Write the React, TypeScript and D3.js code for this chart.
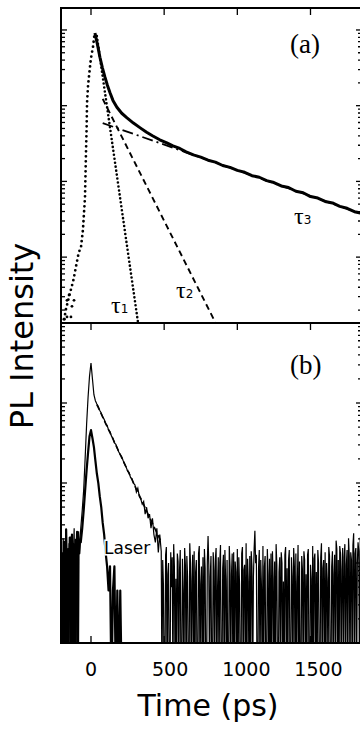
import * as d3 from "d3";

const W = 360;
const H = 729;
const left = 61;
const right = 362;
const aTop = 8;
const aBottom = 323;
const bBottom = 643;

const timeTicks = [0, 500, 1000, 1500];
const timeLabelNudge = [0, 6, 9, 8];

// panel (a): normalised PL decay, log10 of intensity
const plATime = [27, 45, 61, 78, 95, 112, 130, 150, 177, 210, 246, 290, 334, 380, 423, 470, 518, 560, 607,
  650, 700, 750, 800, 850, 900, 950, 1000, 1050, 1100, 1150, 1200, 1250, 1300, 1350, 1400, 1450, 1500,
  1550, 1600, 1650, 1700, 1750, 1800, 1850];
const plALog = [-0.04, -0.2, -0.36, -0.5, -0.62, -0.73, -0.83, -0.93, -1.02, -1.1, -1.16, -1.23, -1.29, -1.35, -1.4, -1.45, -1.49, -1.53, -1.565,
  -1.61, -1.65, -1.68, -1.72, -1.745, -1.79, -1.815, -1.855, -1.88, -1.925, -1.945, -1.99, -2.015, -2.06, -2.08, -2.13, -2.15, -2.2,
  -2.22, -2.265, -2.285, -2.33, -2.355, -2.4, -2.42];

// instrument response (dotted)
const irfTime = [-190, -175, -160, -140, -120, -100, -85, -68, -55, -48, -41, -38, -34, -30, -27, -20, -7, 0, 14, 25];
const irfLog = [-3.95, -3.72, -3.6, -3.45, -3.3, -3.1, -2.95, -2.86, -2.64, -2.42, -2.21, -1.95, -1.6, -1.3, -0.96, -0.73, -0.49, -0.37, -0.22, -0.04];
const irfScatterTime = [-164, -130, -164, -137, -116, -185, -150];
const irfScatterLog = [-3.57, -3.65, -3.79, -3.79, -3.57, -3.82, -3.5];

// exponential components
const tau1Time = [40, 330];
const tau1Log = [-0.08, -3.98];
const tau2Time = [80, 870];
const tau2Log = [-0.91, -3.94];
const tau3Time = [80, 1850];
const tau3Log = [-1.23, -2.43];

// panel (b): counts; 1 count sits at 1/countsAtUnity on the normalised axis
const countsAtUnity = 2208;

// PL, background before the pulse (5 ps bins from -200 ps)
const plBPreStart = -200;
const plBPre = [2.1, 0, 4.5, 1.8, 0, 3.6, 5.2, 0, 2.4, 0, 3.9, 1.5, 0, 4.8, 2.7, 0, 3.1, 6.0, 0, 2.2, 4.1, 0, 3.5, 5.5, 2.9, 4.4];
// PL, rise and decay (10 ps bins from -70 ps)
const plBMainStart = -70;
const plBMain = [
  6, 10, 18, 45, 120, 260, 480,
  698, 440, 280, 236, 214, 199, 178, 166, 148, 138, 122, 116, 102, 97, 85, 80, 70, 67,
  60, 54, 50, 47, 42, 38, 35, 31, 30, 26, 25, 22, 21, 17, 19, 15, 14, 12, 13, 9, 11, 8, 9, 6, 8, 5, 4, 6, 3, 5,
];
// PL, noise floor (5 ps bins from 480 ps)
const plBTailStart = 480;
const plBTail = [
  3.1, 0, 2.4, 1.2, 0, 0, 2.8, 3.5, 0, 1.6, 2.2, 0, 0, 3.0, 1.1, 2.6, 0, 3.8, 2.0, 0, 1.4, 0, 2.9, 2.3, 0,
  1.8, 3.2, 0, 0, 2.5, 1.0, 0, 3.4, 2.1, 0, 2.7, 1.5, 0, 0, 3.9, 2.2, 0, 1.3, 2.8, 0, 3.1, 0, 1.7, 2.4, 0,
  0, 2.9, 3.6, 0, 1.2, 2.0, 0, 2.6, 0, 3.3, 1.9, 0, 0, 2.3, 4.8, 2.1, 0, 1.5, 2.7, 0, 0, 3.0, 1.8, 0, 2.5,
  3.4, 0, 1.1, 2.6, 0, 2.2, 3.7, 0, 0, 1.9, 2.8, 0, 3.2, 1.4, 0, 2.4, 0, 0, 3.6, 2.0, 0, 1.6, 2.9, 0, 3.0,
  0, 2.3, 1.7, 0, 3.3, 0, 2.6, 1.2, 0, 0, 2.9, 3.5, 0, 1.8, 2.1, 0, 3.9, 0, 2.5, 1.3, 0, 2.7, 0, 3.1, 2.0,
  0, 1.5, 3.4, 5.6, 2.2, 2.8, 0, 0, 1.9, 3.2, 0, 2.4, 1.1, 0, 3.6, 0, 2.0, 2.7, 0, 0, 3.3, 1.6, 0, 2.5, 0,
  2.9, 0, 3.1, 1.4, 0, 2.3, 0, 3.8, 2.1, 0, 0, 1.7, 2.6, 0, 3.0, 2.2, 0, 1.3, 0, 2.8, 3.5, 0, 1.9, 0, 2.4,
  3.2, 0, 0, 2.6, 1.5, 0, 3.4, 2.0, 0, 2.9, 0, 1.2, 3.7, 0, 2.3, 0, 0, 2.7, 1.8, 0, 3.1, 2.4, 0, 1.6, 0,
  2.8, 3.3, 0, 0, 2.1, 1.4, 0, 3.6, 0, 2.5, 2.9, 0, 1.7, 0, 3.2, 2.2, 0, 0, 2.6, 3.9, 0, 1.9, 2.4, 0, 3.0,
  0, 2.2, 1.3, 0, 3.5, 2.7, 0, 0, 2.0, 3.1, 0, 1.6, 2.8, 0, 4.2, 3.3, 0, 2.4, 0, 3.6, 2.9, 0, 1.8, 3.4, 0,
  2.6, 3.8, 0, 2.1, 3.2, 0, 4.5, 2.7, 0, 3.0, 2.4, 0, 3.7, 5.2, 0, 2.9, 3.4, 0, 2.2, 4.0, 3.1, 0, 4.6, 3.3, 2.8,
];

// laser, background (5 ps bins from -200 ps) then pulse (10 ps bins from -70 ps)
const laserBPre = [3.0, 1.2, 0, 4.1, 2.5, 0, 5.8, 2.0, 0, 3.3, 1.1, 4.6, 0, 2.7, 5.0, 0, 3.8, 1.6, 0, 4.3, 2.4, 5.4, 0, 3.6, 2.9, 4.2];
const laserBMain = [
  4, 6, 10, 18, 32, 53, 85,
  101, 80, 62, 42, 29, 22, 15, 11, 7, 5,
  3, 2, 1, 2, 0, 1, 2, 0, 1, 0,
  1, 0, 0, 0, 0, 0,
];
const fitBTime = [40, 480];
const fitBLog = [-1.02, -2.74];

const sans = "'DejaVu Sans', sans-serif";
const serif = "'Liberation Serif', serif";

export default function App() {
  const x = d3.scaleLinear([-205, 1852], [left, right]);
  const yA = d3.scaleLog([10 ** -3.87, 10 ** 0.29], [aBottom, aTop]);
  const yB = d3.scaleLog([1e-4, 1], [bBottom, aBottom]);

  const line = d3.line();
  const ptsA = (ts: number[], ls: number[]) => ts.map((t, i) => [x(t), yA(10 ** ls[i])] as [number, number]);
  const ptsB = (ts: number[], ls: number[]) => ts.map((t, i) => [x(t), yB(10 ** ls[i])] as [number, number]);
  const countPts = (cs: number[], t0: number, dt: number) =>
    cs.map((c, i) => [x(t0 + i * dt), yB(c > 0 ? c / countsAtUnity : 10 ** -4.6)] as [number, number]);

  const plBPts = [...countPts(plBPre, plBPreStart, 5), ...countPts(plBMain, plBMainStart, 10), ...countPts(plBTail, plBTailStart, 5)];
  const laserBPts = [...countPts(laserBPre, plBPreStart, 5), ...countPts(laserBMain, plBMainStart, 10)];

  const logTicks = (y: any, x0: number, dir: number) =>
    y.ticks().map((v: number, i: number) => {
      const major = Math.abs(Math.log10(v) - Math.round(Math.log10(v))) < 1e-6;
      const len = major ? 6 : 4;
      return <line key={i} x1={x0} x2={x0 + dir * len} y1={y(v)} y2={y(v)} />;
    });

  return (
    <svg width={W} height={H} style={{ position: "fixed", left: 0, top: 0, background: "#fff" }}>
      <defs>
        <clipPath id="clipA">
          <rect x={left} y={aTop} width={right - left} height={aBottom - aTop} />
        </clipPath>
        <clipPath id="clipB">
          <rect x={left} y={aBottom} width={right - left} height={bBottom - aBottom} />
        </clipPath>
      </defs>

      {/* panel (a) */}
      <g clipPath="url(#clipA)" fill="none" stroke="#000">
        <path d={line(ptsA(tau3Time, tau3Log))!} strokeWidth={1.8} strokeDasharray="11 4 2 4" />
        <path d={line(ptsA(tau2Time, tau2Log))!} strokeWidth={1.9} strokeDasharray="6 4" />
        <path d={line(ptsA(tau1Time, tau1Log))!} strokeWidth={2.6} strokeDasharray="0 4" strokeLinecap="round" />
        <path d={line(ptsA(irfTime, irfLog))!} strokeWidth={2.8} strokeDasharray="0 5" strokeLinecap="round" />
        <path d={line(ptsA(plATime, plALog))!} strokeWidth={3} strokeLinejoin="round" />
        <g fill="#000" stroke="none">
          {ptsA(irfScatterTime, irfScatterLog).map((p, i) => (
            <circle key={i} cx={p[0]} cy={p[1]} r={1.4} />
          ))}
        </g>
      </g>

      {/* panel (b) */}
      <g clipPath="url(#clipB)" fill="none" stroke="#000">
        <path d={line(laserBPts)!} strokeWidth={2.2} strokeLinejoin="round" />
        <path d={line(plBPts)!} strokeWidth={1.2} />
        <path d={line(ptsB(fitBTime, fitBLog))!} strokeWidth={1.6} strokeDasharray="6 3" />
      </g>

      {/* frames and ticks */}
      <g stroke="#000" strokeWidth={1.3} fill="none">
        {logTicks(yA, left, 1)}
        {logTicks(yA, right, -1)}
        {logTicks(yB, left, 1)}
        {logTicks(yB, right, -1)}
        {timeTicks.map((t) => (
          <g key={t}>
            <line x1={x(t)} x2={x(t)} y1={aTop} y2={aTop + 7} />
            <line x1={x(t)} x2={x(t)} y1={aBottom} y2={aBottom + 7} />
            <line x1={x(t)} x2={x(t)} y1={bBottom} y2={bBottom - 7} />
          </g>
        ))}
      </g>
      <g stroke="#000" strokeWidth={2} fill="none">
        <rect x={left} y={aTop} width={right - left} height={aBottom - aTop} />
        <rect x={left} y={aBottom} width={right - left} height={bBottom - aBottom} />
      </g>

      {/* annotations */}
      <text x={290} y={53} fontFamily={serif} fontSize={27}>(a)</text>
      <text x={290} y={374} fontFamily={serif} fontSize={27}>(b)</text>
      <text x={111} y={313} fontFamily={serif} fontSize={24}>τ<tspan fontFamily={sans} fontSize={12}>1</tspan></text>
      <text x={176} y={298} fontFamily={serif} fontSize={24}>τ<tspan fontFamily={sans} fontSize={12}>2</tspan></text>
      <text x={294} y={224} fontFamily={serif} fontSize={24}>τ<tspan fontFamily={sans} fontSize={12}>3</tspan></text>
      <text x={104} y={554} fontFamily={sans} fontSize={17} stroke="#fff" strokeWidth={3} paintOrder="stroke">Laser</text>

      {/* axis labels */}
      {timeTicks.map((t, i) => (
        <text key={t} x={x(t) + timeLabelNudge[i]} y={676} textAnchor="middle" fontFamily={sans} fontSize={19}>
          {t}
        </text>
      ))}
      <text x={208} y={716} textAnchor="middle" fontFamily={sans} fontSize={30}>Time (ps)</text>
      <text transform="translate(33,336) rotate(-90)" textAnchor="middle" fontFamily={sans} fontSize={32}>
        PL Intensity
      </text>
    </svg>
  );
}
